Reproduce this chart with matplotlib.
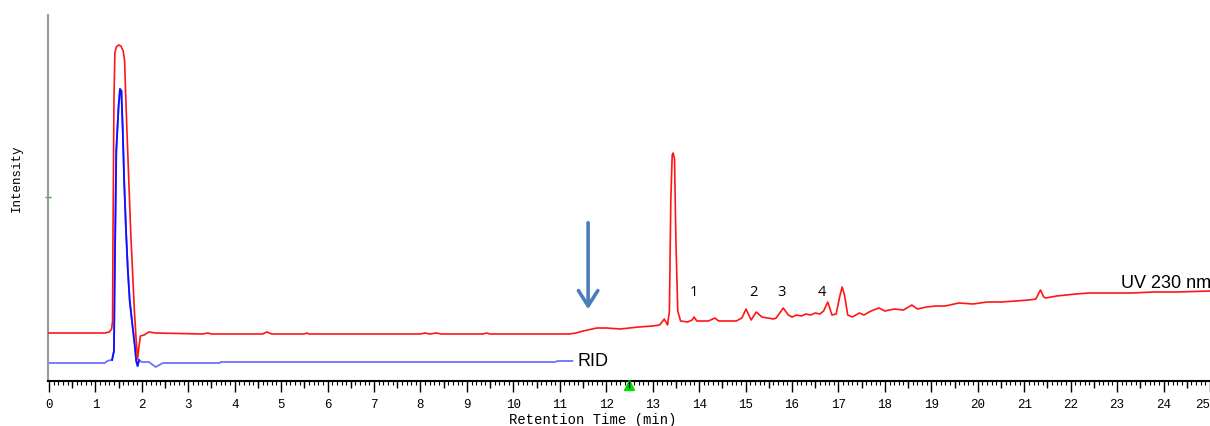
import matplotlib
matplotlib.use("Agg")
import matplotlib.pyplot as plt
from matplotlib.ticker import MultipleLocator
import matplotlib.transforms as mtransforms

# UV 230 nm trace (time in min, intensity in arbitrary units)
uv_time = [0, 1.2, 1.3, 1.35, 1.37, 1.38, 1.4, 1.42, 1.45, 1.5, 1.55, 1.6, 1.63, 1.65,
           1.68, 1.72, 1.76, 1.8, 1.84, 1.88, 1.91, 1.94, 1.97, 2.05, 2.15, 2.3,
           3.3, 3.42, 3.5, 4.6, 4.69, 4.8, 5.5, 5.55, 5.6, 8.0, 8.1, 8.2, 8.34, 8.45,
           9.35, 9.42, 9.5, 11.2, 11.35, 11.5, 11.8, 12.0, 12.3, 12.7, 13.0, 13.15,
           13.25, 13.32, 13.36, 13.39, 13.42, 13.44, 13.47, 13.5, 13.54, 13.6, 13.75,
           13.85, 13.89, 13.95, 14.2, 14.34, 14.42, 14.8, 14.92, 15.01, 15.07, 15.12,
           15.23, 15.35, 15.6, 15.66, 15.81, 15.92, 16.0, 16.1, 16.2, 16.3, 16.4,
           16.5, 16.6, 16.68, 16.77, 16.86, 16.95, 17.03, 17.08, 17.13, 17.2, 17.3,
           17.45, 17.55, 17.7, 17.87, 18.0, 18.2, 18.4, 18.58, 18.7, 18.9, 19.1,
           19.3, 19.59, 19.9, 20.2, 20.5, 20.82, 21.1, 21.25, 21.35, 21.42, 21.46,
           21.7, 22.11, 22.4, 22.82, 23.3, 23.8, 24.3, 25.0]
uv_signal = [48, 48, 49, 52, 60, 150, 280, 328, 334, 336, 335, 330, 320, 290,
             250, 200, 150, 110, 70, 40, 22, 35, 45, 46, 49, 48,
             47, 48, 47, 47, 49, 47, 47, 48, 47, 47, 48, 47, 48, 47,
             47, 48, 47, 47, 48, 50, 53, 53, 52, 54, 55, 56,
             62, 56, 70, 180, 226, 228, 222, 140, 70, 60, 59,
             61, 64, 60, 60, 63, 60, 60, 63, 72, 66, 61,
             69, 64, 62, 63, 73, 66, 64, 66, 65, 67, 66,
             68, 67, 70, 79, 66, 67, 85, 94, 86, 66, 64,
             68, 66, 70, 73, 70, 72, 71, 76, 72, 74, 75,
             75, 78, 77, 79, 79, 80, 81, 82, 91, 84, 83,
             85, 87, 88, 88, 88, 89, 89, 90]

# RID trace
rid_time = [0, 1.2, 1.26, 1.33, 1.36, 1.4, 1.42, 1.45, 1.5, 1.53, 1.56, 1.59, 1.62,
            1.66, 1.7, 1.74, 1.8, 1.85, 1.88, 1.91, 1.94, 2.0, 2.15, 2.3, 2.45,
            3.68, 3.7, 10.9, 10.95, 11.27]
rid_signal = [18, 18, 20, 21, 21, 30, 120, 230, 275, 292, 290, 250, 200,
              150, 110, 80, 55, 35, 20, 15, 21, 19, 19, 14, 18,
              18, 19, 19, 20, 20]

peak_labels = ["1", "2", "3", "4"]
peak_label_time = [13.89, 15.16, 15.78, 16.65]
peak_label_level = 89

x_ticks = list(range(26))

arrow_time = 11.61
arrow_top = 161
arrow_tip = 69

fig = plt.figure(figsize=(12.1, 4.26), dpi=100)
ax = fig.add_axes([48 / 1210, 45 / 426, 1162 / 1210, 366 / 426])

ax.plot(rid_time, rid_signal, color="#7070ff", lw=1.3, zorder=2)
ax.plot(rid_time[4:21], rid_signal[4:21], color="#1010ff", lw=1.3, zorder=3)
ax.plot(uv_time, uv_signal, color="#ff1515", lw=1.2, zorder=4)

ax.set_xlim(-0.02, 25.0)
ax.set_ylim(0, 366)

mono = "Liberation Mono"
sans = "Liberation Sans"

ax.text(11.38, 19, "RID", fontsize=13, family=sans, va="center", ha="left")
ax.text(23.08, 98, "UV 230 nm", fontsize=13, family=sans, va="center", ha="left",
        clip_on=False)
for lab, t in zip(peak_labels, peak_label_time):
    ax.text(t, peak_label_level, lab, fontsize=10.5, family="Open Sans",
            ha="center", va="center")

ax.annotate("", xy=(arrow_time, arrow_tip), xytext=(arrow_time, arrow_top),
            arrowprops=dict(arrowstyle="->,head_length=1.1,head_width=0.7",
                            color="#4a7ebb", lw=2.6))

# axis styling
for s in ["top", "right"]:
    ax.spines[s].set_visible(False)
ax.spines["left"].set_color("#999999")
ax.spines["left"].set_linewidth(1.5)
ax.spines["bottom"].set_linewidth(1.5)
ax.set_yticks([])

ax.set_xticks(x_ticks)
ax.set_xticklabels([str(v) for v in x_ticks], family=mono)
ax.xaxis.set_minor_locator(MultipleLocator(0.1))
ax.tick_params(axis="x", which="major", length=8, width=1, pad=5,
               labelsize=9, direction="out")
ax.tick_params(axis="x", which="minor", length=3, width=0.8, direction="out")
ax.get_xticklabels()[-1].set_horizontalalignment("right")

# half-minute ticks
ax2 = ax.twiny()
ax2.set_xlim(ax.get_xlim())
ax2.xaxis.set_ticks_position("bottom")
ax2.set_xticks([i + 0.5 for i in range(25)])
ax2.tick_params(axis="x", length=5, width=1, labelbottom=False, labeltop=False)
for s in ax2.spines.values():
    s.set_visible(False)

ax.set_xlabel("Retention Time (min)", family=mono, fontsize=10)
ax.xaxis.set_label_coords((593 - 48) / 1162, -0.088)
ax.set_ylabel("Intensity", family=mono, fontsize=9)
ax.yaxis.set_label_coords(-0.0215, (381 - 178) / 366)

# green markers on the axes
trans = mtransforms.blended_transform_factory(ax.transData, ax.transAxes)
ax.plot([12.5], [-0.012], marker="^", color="#00dd00", markersize=7,
        transform=trans, clip_on=False, zorder=5)
ax.plot([0], [184], marker="_", color="#00cc00", markersize=4,
        transform=mtransforms.blended_transform_factory(ax.transAxes, ax.transData),
        clip_on=False)

fig.savefig("out.png", dpi=100)
